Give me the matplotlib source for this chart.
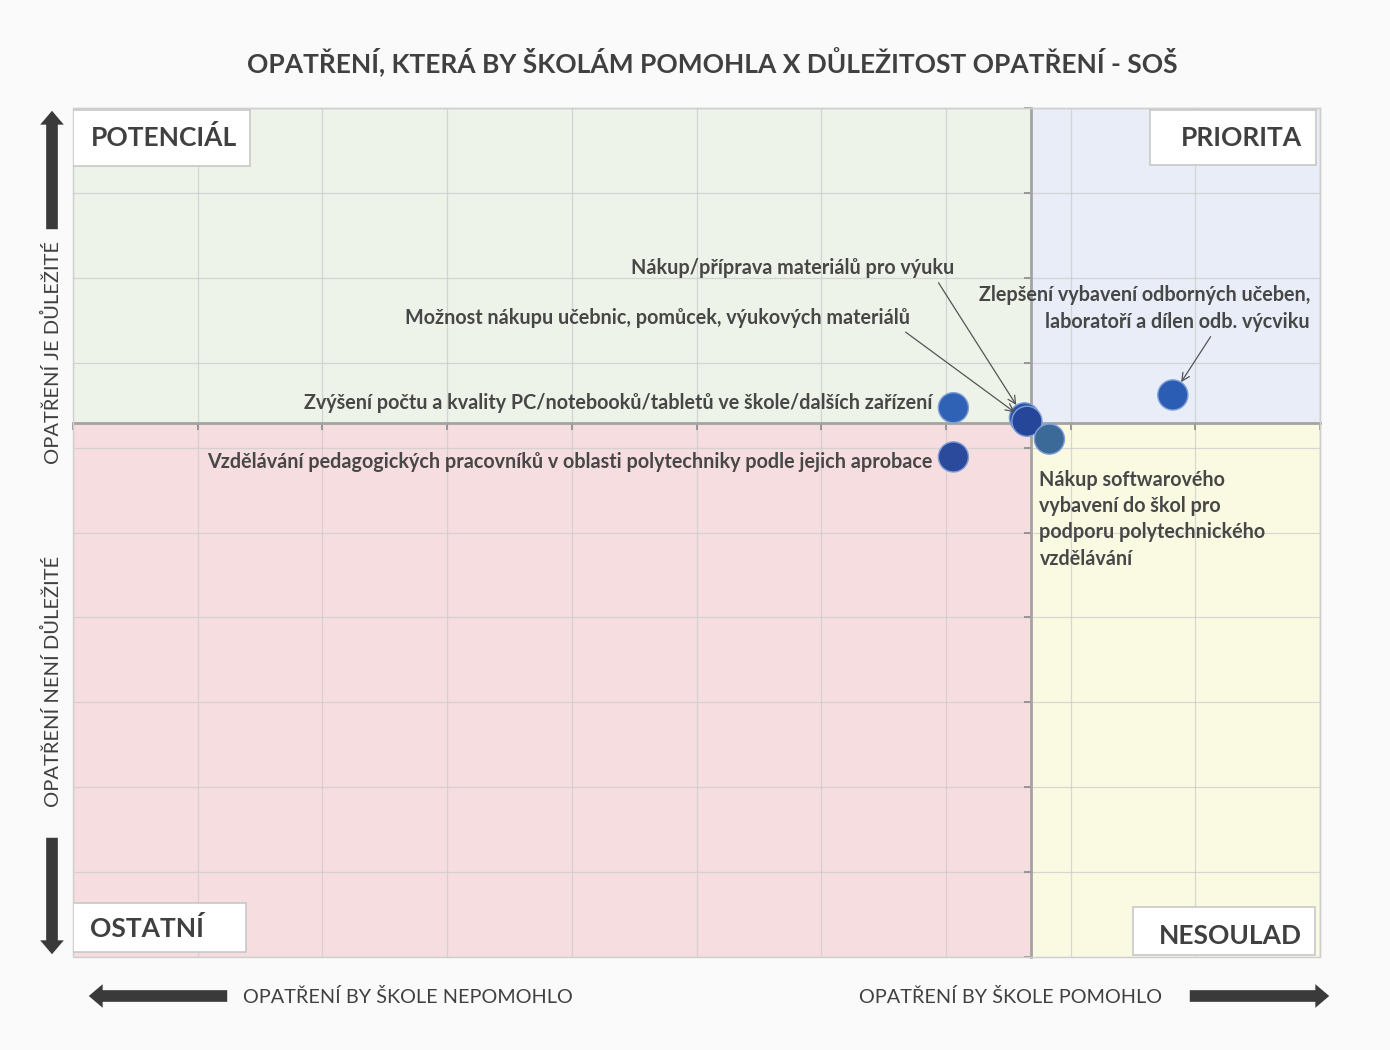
import matplotlib
matplotlib.use("Agg")
import matplotlib.pyplot as plt
from matplotlib.patches import Rectangle, FancyArrowPatch

plt.rcParams['font.family'] = ['Lato', 'DejaVu Sans']

# =============== data ======================
OPATRENI = [
    "Zvýšení počtu a kvality PC/notebooků/tabletů ve škole/dalších zařízení",
    "Vzdělávání pedagogických pracovníků v oblasti polytechniky podle jejich aprobace",
    "Nákup/příprava materiálů pro výuku",
    "Možnost nákupu učebnic, pomůcek, výukových materiálů",
    "Nákup softwarového\nvybavení do škol pro\npodporu polytechnického\nvzdělávání",
    "Zlepšení vybavení odborných učeben,\nlaboratoří a dílen odb. výcviku",
]
# osa x: jak moc by opatření škole pomohlo, osa y: důležitost opatření
POMOHLO = [7.06, 7.06, 7.63, 7.65, 7.83, 8.82]
DULEZITOST = [6.47, 5.89, 6.35, 6.31, 6.10, 6.62]
BARVY = ['#2f62b4', '#2b4a9c', '#2a55a6', '#26469a', '#3b6a98', '#2a5db3']

X_DELIC = 7.68   # hranice kvadrantů
Y_DELIC = 6.29

KVADRANTY = ["POTENCIÁL", "PRIORITA", "OSTATNÍ", "NESOULAD"]
NADPIS = "OPATŘENÍ, KTERÁ BY ŠKOLÁM POMOHLA X DŮLEŽITOST OPATŘENÍ - SOŠ"

TEXT = '#404040'
W, H = 1390, 1050

fig = plt.figure(figsize=(W / 100, H / 100), dpi=100)
fig.patch.set_facecolor('#fafafa')

ax = fig.add_axes([73 / W, 93 / H, 1247 / W, 849 / H])
ax.set_xlim(0, 10)
ax.set_ylim(0, 10)

# barevné kvadranty
ax.add_patch(Rectangle((0, Y_DELIC), X_DELIC, 10 - Y_DELIC, fc='#edf3e9', ec='none', zorder=0))
ax.add_patch(Rectangle((X_DELIC, Y_DELIC), 10 - X_DELIC, 10 - Y_DELIC, fc='#e8edf7', ec='none', zorder=0))
ax.add_patch(Rectangle((0, 0), X_DELIC, Y_DELIC, fc='#f5dde0', ec='none', zorder=0))
ax.add_patch(Rectangle((X_DELIC, 0), 10 - X_DELIC, Y_DELIC, fc='#fafae3', ec='none', zorder=0))

# mřížka
ax.set_xticks(range(0, 11))
ax.set_yticks(range(0, 11))
ax.set_axisbelow(True)
ax.grid(True, color='#cccccc', lw=0.9, alpha=0.75)
ax.tick_params(labelleft=False, labelbottom=False, length=5, width=1.2,
               color='#8a8a8a', direction='out')

# osy kříží se uprostřed (jako v Excelu)
ax.spines['left'].set_position(('data', X_DELIC))
ax.spines['bottom'].set_position(('data', Y_DELIC))
for s in ['left', 'bottom']:
    ax.spines[s].set_color('#a3a3a3')
    ax.spines[s].set_linewidth(2)
for s in ['top', 'right']:
    ax.spines[s].set_color('#cfcfcf')
    ax.spines[s].set_linewidth(1)
ax.add_patch(Rectangle((0, 0), 1, 1, transform=ax.transAxes, fill=False,
                       ec='#cfcfcf', lw=1, zorder=3, clip_on=False))

# body
ax.scatter(POMOHLO, DULEZITOST, s=470, c=BARVY, edgecolors='#7f9fd8',
           linewidths=1.0, zorder=5, clip_on=False)

# popisky bodů: pozice textu, zarovnání, šipka
popisky = [
    dict(xytext=(6.89, 6.53), ha='right', va='center', sipka=None),
    dict(xytext=(6.89, 5.83), ha='right', va='center', sipka=None),
    dict(xytext=(7.07, 8.12), ha='right', va='center', sipka=(0.94, 0.0)),
    dict(xytext=(6.71, 7.53), ha='right', va='center', sipka=(0.98, 0.0)),
    dict(xytext=(7.75, 5.74), ha='left', va='top', sipka=None),
    dict(xytext=(9.92, 7.64), ha='right', va='center', sipka=(0.71, 0.0)),
]
for i, p in enumerate(popisky):
    kw = {}
    if p['sipka'] is not None:
        kw['arrowprops'] = dict(arrowstyle='->', color='#555555', lw=0.9,
                                relpos=p['sipka'], shrinkA=2, shrinkB=11,
                                mutation_scale=14)
    ax.annotate(OPATRENI[i], xy=(POMOHLO[i], DULEZITOST[i]),
                xytext=p['xytext'], textcoords='data',
                ha=p['ha'], va=p['va'], multialignment=p['ha'],
                fontsize=14.2, fontweight='bold', color='#474747',
                linespacing=1.4, zorder=6, **kw)

# štítky kvadrantů
boxy = [
    ((0.0, 0.932, 0.142, 0.066), (0.073, 0.965)),
    ((0.864, 0.933, 0.133, 0.065), (0.937, 0.965)),
    ((0.0, 0.006, 0.139, 0.058), (0.059, 0.034)),
    ((0.850, 0.002, 0.146, 0.057), (0.928, 0.025)),
]
for nazev, (rect, pos) in zip(KVADRANTY, boxy):
    ax.add_patch(Rectangle(rect[:2], rect[2], rect[3], transform=ax.transAxes,
                           fc='white', ec='#c8c8c8', lw=1.2, zorder=4))
    ax.text(pos[0], pos[1], nazev, transform=ax.transAxes, ha='center', va='center',
            fontsize=19, fontweight='bold', color=TEXT, zorder=5)

# nadpis
fig.text(712 / W, 1 - 62 / H, NADPIS, ha='center', va='center',
         fontsize=19, fontweight='bold', color=TEXT)

# popisky os a šipky
fig.text(243 / W, 1 - 997 / H, "OPATŘENÍ BY ŠKOLE NEPOMOHLO", ha='left', va='center',
         fontsize=14.3, color=TEXT)
fig.text(1162 / W, 1 - 997 / H, "OPATŘENÍ BY ŠKOLE POMOHLO", ha='right', va='center',
         fontsize=14.3, color=TEXT)
fig.text(52 / W, 1 - 353 / H, "OPATŘENÍ JE DŮLEŽITÉ", ha='center', va='center',
         rotation=90, fontsize=14.5, color=TEXT)
fig.text(52 / W, 1 - 681 / H, "OPATŘENÍ NENÍ DŮLEŽITÉ", ha='center', va='center',
         rotation=90, fontsize=14.5, color=TEXT)

styl = 'simple,head_length=0.5,head_width=0.85,tail_width=0.42'
sipky = [
    ((230, 996), (86, 996)),
    ((1187, 996), (1332, 996)),
    ((52, 232), (52, 108)),
    ((52, 835), (52, 957)),
]
for (x0, y0), (x1, y1) in sipky:
    fig.add_artist(FancyArrowPatch(
        (x0 / W, 1 - y0 / H), (x1 / W, 1 - y1 / H), transform=fig.transFigure,
        arrowstyle=styl, mutation_scale=20, fc='#3a3a3a', ec='#3a3a3a', lw=0))

fig.savefig('out.png', dpi=100, facecolor=fig.get_facecolor())
